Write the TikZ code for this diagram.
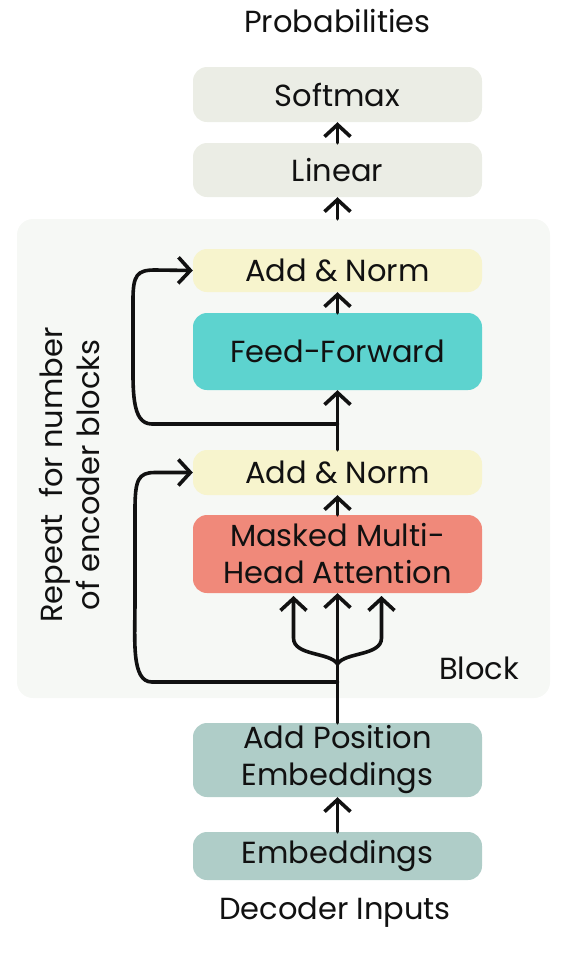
\documentclass[tikz,border=0pt]{standalone}
\usepackage{fontspec}
\setmainfont{Poppins}
\usetikzlibrary{arrows.meta}
\definecolor{ink}{HTML}{111111}
\definecolor{headbg}{HTML}{EBEDE5}
\definecolor{blockbg}{HTML}{F6F8F5}
\definecolor{normbg}{HTML}{F7F4CD}
\definecolor{ffbg}{HTML}{5DD3CF}
\definecolor{attbg}{HTML}{F0897A}
\definecolor{embbg}{HTML}{AFCDC8}
\begin{document}
\begin{tikzpicture}[x=1pt,y=-1pt,
  txt/.style={font=\fontsize{30.5}{37}\selectfont, text=ink},
  stage/.style={txt, rounded corners=14pt, minimum width=289pt, inner sep=0pt, align=center},
  wire/.style={draw=ink, line width=3.6pt, line cap=round, line join=round},
  flow/.style={wire, -{Straight Barb[length=12pt,width=26pt,line width=3.6pt]}}
]
\useasboundingbox (0,0) rectangle (586,954);

% repeated block background
\node[fill=blockbg, rounded corners=16pt, minimum width=533pt, minimum height=479pt, inner sep=0pt] (block) at (283.5,458.5) {};

% stages
\node[stage, fill=headbg, minimum height=55pt] (softmax) at (337.5,94.5) {Softmax};
\node[stage, fill=headbg, minimum height=54pt] (linear) at (337.5,170) {Linear};
\node[stage, fill=normbg, minimum height=43pt] (norm1) at (337.5,270.5) {Add \& Norm};
\node[stage, fill=ffbg, minimum height=77pt] (ff) at (337.5,351.5) {Feed-Forward};
\node[stage, fill=normbg, minimum height=45pt] (norm2) at (337.5,472.5) {Add \& Norm};
\node[stage, fill=attbg, minimum height=78pt] (att) at (337.5,554) {Masked Multi-\\Head Attention};
\node[stage, fill=embbg, minimum height=74pt] (pos) at (337.5,760) {Add Position\\Embeddings};
\node[stage, fill=embbg, minimum height=48pt] (emb) at (337.5,856) {Embeddings};

% labels
\node[txt] (prob) at (337.5,21) {Probabilities};
\node[txt] (inputs) at (335,912) {Decoder Inputs};
\node[txt] (blocklbl) at (479,668) {Block};
\node[txt, rotate=90, align=center] (repeat) at (69.5,475) {Repeat\ \ for number\\of encoder blocks};

% junction points
\coordinate (fork) at (337.5,664);
\coordinate (res2) at (337.5,682);
\coordinate (res1) at (337.5,424);
\coordinate (kin) at (293.5,596);
\coordinate (vin) at (381.5,596);

% main flow
\draw[flow] (emb.north) -- (pos.south);
\draw[flow] (pos.north) -- (att.south);
\draw[flow] (att.north) -- (norm2.south);
\draw[flow] (norm2.north) -- (ff.south);
\draw[flow] (ff.north) -- (norm1.south);
\draw[flow] (block.north -| linear.south) -- (linear.south);
\draw[flow] (linear.north) -- (softmax.south);

% query / key / value fork
\draw[flow] (fork) .. controls (330,652) and (293.5,656) .. (293.5,638) -- (kin);
\draw[flow] (fork) .. controls (345,652) and (381.5,656) .. (381.5,638) -- (vin);

% residual connections
\draw[flow] (res2) -- (152,682) .. controls (131,682) and (135,640) .. (135,600)
  -- (135,510) .. controls (135,480) and (138,472.5) .. (155,472.5) -- (norm2.west);
\draw[flow] (res1) -- (152,424) .. controls (131,424) and (133,390) .. (133,350)
  -- (133,300) .. controls (133,275) and (137,270) .. (155,270) -- (norm1.west);
\end{tikzpicture}
\end{document}
